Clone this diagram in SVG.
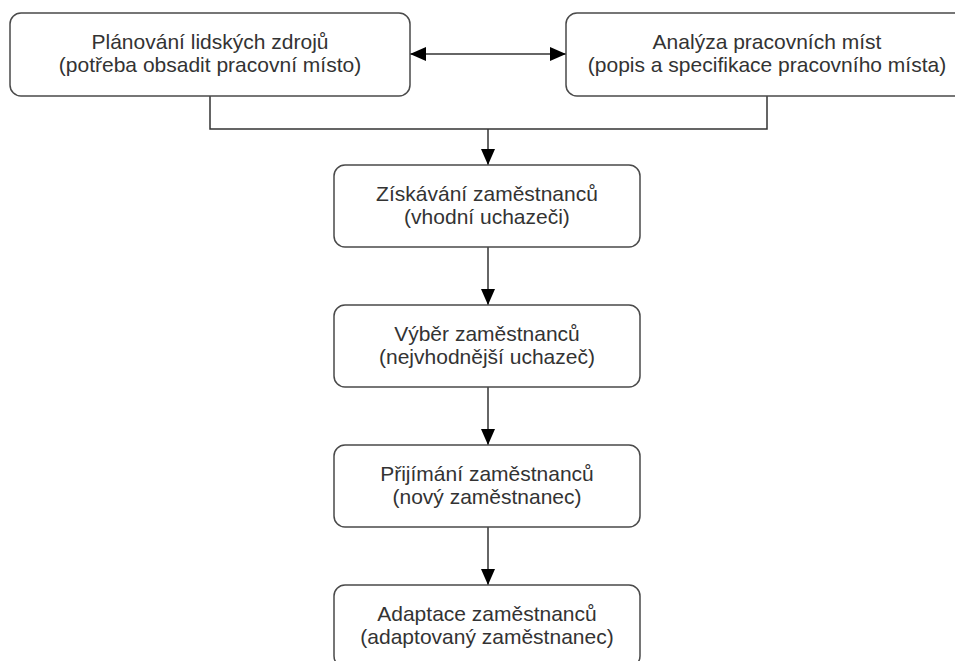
<svg xmlns="http://www.w3.org/2000/svg" width="955" height="661" viewBox="0 0 955 661">
  <style>
    .box { fill: #ffffff; stroke: #4a4a4a; stroke-width: 1.5; }
    .lbl { font-family: "Liberation Sans", Arial, sans-serif; font-size: 21px; fill: #333333; text-anchor: middle; }
    .conn { fill: none; stroke: #333333; stroke-width: 1.5; }
  </style>
  <defs>
    <marker id="arr" markerUnits="userSpaceOnUse" markerWidth="16" markerHeight="14" viewBox="0 0 16 14" refX="16" refY="7" orient="auto-start-reverse">
      <path d="M0,0 L16,7 L0,14 Z" fill="#000000"/>
    </marker>
  </defs>
  <rect width="955" height="661" fill="#ffffff"/>

  <g id="connectors">
    <line class="conn" x1="410" y1="54" x2="566" y2="54" marker-start="url(#arr)" marker-end="url(#arr)"/>
    <polyline class="conn" points="210,96 210,129 767,129 767,96"/>
    <line class="conn" x1="488" y1="129" x2="488" y2="165" marker-end="url(#arr)"/>
    <line class="conn" x1="488" y1="247" x2="488" y2="305" marker-end="url(#arr)"/>
    <line class="conn" x1="488" y1="387" x2="488" y2="445" marker-end="url(#arr)"/>
    <line class="conn" x1="488" y1="527" x2="488" y2="585" marker-end="url(#arr)"/>
  </g>

  <g id="planovani">
    <rect class="box" x="10" y="13" width="400" height="83" rx="11"/>
    <text class="lbl" x="210" y="49">Plánování lidských zdrojů</text>
    <text class="lbl" x="210" y="72">(potřeba obsadit pracovní místo)</text>
  </g>

  <g id="analyza">
    <rect class="box" x="566" y="13" width="400" height="83" rx="11"/>
    <text class="lbl" x="767" y="49">Analýza pracovních míst</text>
    <text class="lbl" x="767" y="72">(popis a specifikace pracovního místa)</text>
  </g>

  <g id="ziskavani">
    <rect class="box" x="334" y="165" width="306" height="82" rx="11"/>
    <text class="lbl" x="487" y="201">Získávání zaměstnanců</text>
    <text class="lbl" x="487" y="224">(vhodní uchazeči)</text>
  </g>

  <g id="vyber">
    <rect class="box" x="334" y="305" width="306" height="82" rx="11"/>
    <text class="lbl" x="487" y="341">Výběr zaměstnanců</text>
    <text class="lbl" x="487" y="364">(nejvhodnější uchazeč)</text>
  </g>

  <g id="prijimani">
    <rect class="box" x="334" y="445" width="306" height="82" rx="11"/>
    <text class="lbl" x="487" y="481">Přijímání zaměstnanců</text>
    <text class="lbl" x="487" y="504">(nový zaměstnanec)</text>
  </g>

  <g id="adaptace">
    <rect class="box" x="334" y="585" width="306" height="82" rx="11"/>
    <text class="lbl" x="487" y="621">Adaptace zaměstnanců</text>
    <text class="lbl" x="487" y="644">(adaptovaný zaměstnanec)</text>
  </g>
</svg>
